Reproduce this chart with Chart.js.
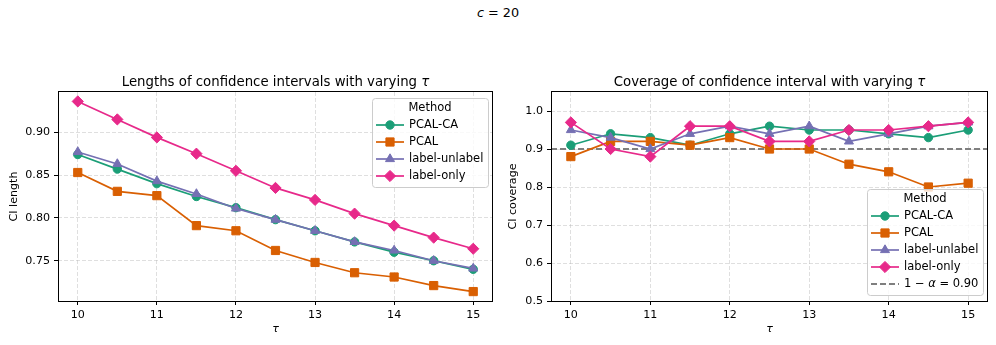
<!DOCTYPE html>
<html>
<head>
<meta charset="utf-8">
<script src="https://cdn.jsdelivr.net/npm/chart.js@4/dist/chart.umd.min.js"></script>
<style>
  body { margin: 0; background: #fff; width: 996px; height: 345px; overflow: hidden; position: relative; font-family: "DejaVu Sans", sans-serif; }
  #sup { position: absolute; top: 5px; left: 0; width: 996px; text-align: center; font-size: 12.8px; line-height: 16px; color: #000; }
  .panel { position: absolute; top: 0; height: 345px; }
</style>
</head>
<body>
<div id="sup"><i>c</i> = 20</div>
<div class="panel" style="left:0;width:500px"><canvas id="len-chart" width="500" height="345"></canvas></div>
<div class="panel" style="left:500px;width:496px"><canvas id="cov-chart" width="496" height="345"></canvas></div>
<script>
// x values (tau) and axis ticks
const tau = [10, 10.5, 11, 11.5, 12, 12.5, 13, 13.5, 14, 14.5, 15];
const tauTicks = [10, 11, 12, 13, 14, 15];
const tauMin = 9.75;
const tauMax = 15.25;

const methods = ['PCAL-CA', 'PCAL', 'label-unlabel', 'label-only'];
const methodColors = ['#1b9e77', '#d95f02', '#7570b3', '#e7298a'];
const methodMarkers = ['circle', 'rect', 'triangle', 'rectRot'];
const markerRadius = [4.2, 5.8, 5.2, 5.6];

// CI length
const lenPcalCa = [0.874, 0.857, 0.840, 0.825, 0.812, 0.798, 0.785, 0.772, 0.760, 0.750, 0.740];
const lenPcal = [0.853, 0.831, 0.826, 0.791, 0.785, 0.762, 0.748, 0.736, 0.731, 0.721, 0.714];
const lenLabelUnlabel = [0.877, 0.863, 0.843, 0.828, 0.811, 0.798, 0.785, 0.772, 0.762, 0.750, 0.741];
const lenLabelOnly = [0.936, 0.915, 0.894, 0.875, 0.855, 0.835, 0.821, 0.805, 0.791, 0.777, 0.764];
const lenTicks = [0.75, 0.80, 0.85, 0.90];
const lenMin = 0.703;
const lenMax = 0.947;

// CI coverage
const covPcalCa = [0.91, 0.94, 0.93, 0.91, 0.94, 0.96, 0.95, 0.95, 0.94, 0.93, 0.95];
const covPcal = [0.88, 0.92, 0.92, 0.91, 0.93, 0.90, 0.90, 0.86, 0.84, 0.80, 0.81];
const covLabelUnlabel = [0.95, 0.93, 0.90, 0.94, 0.96, 0.94, 0.96, 0.92, 0.94, 0.96, 0.97];
const covLabelOnly = [0.97, 0.90, 0.88, 0.96, 0.96, 0.92, 0.92, 0.95, 0.95, 0.96, 0.97];
const covTicks = [0.5, 0.6, 0.7, 0.8, 0.9, 1.0];
const covMin = 0.5;
const covMax = 1.05;
const targetCoverage = 0.90;

const FONT = '"DejaVu Sans", sans-serif';
const FS = 11.1;        // ticks and axis labels
const LEG_FS = 11.5;    // legend
const TITLE_FS = 13.3;  // subplot titles
Chart.defaults.font.family = FONT;
Chart.defaults.color = '#000';

// text with greek letters in italic (mathtext look)
function drawRich(ctx, text, x, y, size, align) {
    const parts = text.split(/([τα])/).filter(p => p.length);
    const fontOf = p => (/[τα]/.test(p) ? 'italic ' : '') + size + 'px ' + FONT;
    let total = 0;
    parts.forEach(p => { ctx.font = fontOf(p); total += ctx.measureText(p).width; });
    let cx = align === 'center' ? x - total / 2 : x;
    ctx.textAlign = 'left';
    parts.forEach(p => {
        ctx.font = fontOf(p);
        ctx.fillText(p, cx, y);
        cx += ctx.measureText(p).width;
    });
    return total;
}

function measureRich(ctx, text, size) {
    let w = 0;
    text.split(/([τα])/).filter(p => p.length).forEach(p => {
        ctx.font = (/[τα]/.test(p) ? 'italic ' : '') + size + 'px ' + FONT;
        w += ctx.measureText(p).width;
    });
    return w;
}

function drawLegend(chart, where) {
    const ctx = chart.ctx;
    const a = chart.chartArea;
    const items = chart.data.datasets;
    let maxW = 0;
    items.forEach(ds => { maxW = Math.max(maxW, measureRich(ctx, ds.label, LEG_FS)); });
    const boxW = Math.round(37 + maxW + 5);
    const boxH = 27 + (items.length - 1) * 17 + 11;
    const x0 = a.right - 5 - boxW;
    const y0 = where === 'upper right' ? a.top + 6 : a.bottom - 6 - boxH;

    ctx.save();
    ctx.beginPath();
    ctx.roundRect(x0 + 0.5, y0 + 0.5, boxW, boxH, 3);
    ctx.fillStyle = 'rgba(255,255,255,0.8)';
    ctx.fill();
    ctx.strokeStyle = '#cccccc';
    ctx.lineWidth = 1;
    ctx.stroke();

    ctx.fillStyle = '#000';
    ctx.textBaseline = 'middle';
    ctx.font = LEG_FS + 'px ' + FONT;
    ctx.textAlign = 'center';
    ctx.fillText('Method', x0 + boxW / 2, y0 + 10);

    items.forEach((ds, i) => {
        const cy = y0 + 27 + i * 17;
        ctx.strokeStyle = ds.borderColor;
        ctx.lineWidth = ds.borderWidth;
        ctx.setLineDash(ds.borderDash || []);
        ctx.beginPath();
        ctx.moveTo(x0 + 4, cy);
        ctx.lineTo(x0 + 32, cy);
        ctx.stroke();
        ctx.setLineDash([]);
        if (ds.pointRadius > 0) {
            ctx.fillStyle = ds.backgroundColor;
            ctx.strokeStyle = ds.borderColor;
            ctx.lineWidth = 1;
            Chart.helpers.drawPoint(ctx, {pointStyle: ds.pointStyle, radius: ds.pointRadius, borderWidth: 1, rotation: 0}, x0 + 18, cy);
        }
        ctx.fillStyle = '#000';
        ctx.textBaseline = 'middle';
        drawRich(ctx, ds.label, x0 + 37, cy + 0.5, LEG_FS, 'left');
    });
    ctx.restore();
}

const mplDecor = {
    id: 'mplDecor',
    afterDraw(chart, args, opts) {
        const ctx = chart.ctx;
        const a = chart.chartArea;
        ctx.save();
        // axes frame
        ctx.strokeStyle = '#000';
        ctx.lineWidth = 1;
        ctx.strokeRect(Math.round(a.left) + 0.5, Math.round(a.top) - 0.5, Math.round(a.right - a.left) - 1, Math.round(a.bottom - a.top) + 1);
        // subplot title
        ctx.fillStyle = '#000';
        ctx.textBaseline = 'alphabetic';
        drawRich(ctx, opts.title, (a.left + a.right) / 2, 85.5, TITLE_FS, 'center');
        ctx.restore();
        drawLegend(chart, opts.legendAt);
    }
};

function methodDatasets(series) {
    return series.map((vals, i) => ({
        label: methods[i],
        data: vals.map((v, k) => ({x: tau[k], y: v})),
        borderColor: methodColors[i],
        backgroundColor: methodColors[i],
        pointStyle: methodMarkers[i],
        pointRadius: markerRadius[i],
        pointBorderWidth: 1,
        borderWidth: 1.7,
        order: series.length - i
    }));
}

function makeChart(id, datasets, cfg) {
    const ctx = document.getElementById(id);
    return new Chart(ctx, {
        type: 'line',
        data: {datasets: datasets},
        plugins: [mplDecor],
        options: {
            responsive: false,
            animation: false,
            events: [],
            layout: {padding: {left: 0, top: 92, right: cfg.padRight, bottom: 0}},
            plugins: {
                legend: {display: false},
                tooltip: {enabled: false},
                mplDecor: {title: cfg.title, legendAt: cfg.legendAt}
            },
            scales: {
                x: {
                    type: 'linear',
                    min: tauMin,
                    max: tauMax,
                    afterBuildTicks: s => { s.ticks = tauTicks.map(v => ({value: v})); },
                    afterFit: s => { s.height = 44; },
                    grid: {color: 'rgba(176,176,176,0.5)', lineWidth: 0.8, tickColor: '#000', tickLength: 4, tickWidth: 1},
                    border: {display: false, dash: [4, 2]},
                    ticks: {color: '#000', font: {size: FS}, padding: 3, maxRotation: 0, callback: v => String(v)},
                    title: {display: true, text: 'τ', color: '#000', font: {size: FS, style: 'italic'}, padding: {top: 0, bottom: 9}}
                },
                y: {
                    type: 'linear',
                    min: cfg.yMin,
                    max: cfg.yMax,
                    afterBuildTicks: s => { s.ticks = cfg.yTicks.map(v => ({value: v})); },
                    afterFit: s => { s.width = cfg.yWidth; },
                    grid: {color: 'rgba(176,176,176,0.5)', lineWidth: 0.8, tickColor: '#000', tickLength: 4, tickWidth: 1},
                    border: {display: false, dash: [4, 2]},
                    ticks: {color: '#000', font: {size: FS}, padding: 4, callback: v => v.toFixed(cfg.digits)},
                    title: {display: true, text: cfg.yTitle, color: '#000', font: {size: FS}, padding: {top: cfg.yTitlePad, bottom: 0}}
                }
            }
        }
    });
}

makeChart('len-chart',
    methodDatasets([lenPcalCa, lenPcal, lenLabelUnlabel, lenLabelOnly]),
    {title: 'Lengths of confidence intervals with varying τ', legendAt: 'upper right', padRight: 7,
     yMin: lenMin, yMax: lenMax, yTicks: lenTicks, digits: 2, yWidth: 58, yTitle: 'CI length', yTitlePad: 7});

const covSets = methodDatasets([covPcalCa, covPcal, covLabelUnlabel, covLabelOnly]);
covSets.push({
    label: '1 − α = ' + targetCoverage.toFixed(2),
    data: [{x: tauMin, y: targetCoverage}, {x: tauMax, y: targetCoverage}],
    borderColor: '#7f7f7f',
    backgroundColor: '#7f7f7f',
    borderDash: [6, 3],
    borderWidth: 1.8,
    pointRadius: 0,
    order: 99
});

makeChart('cov-chart', covSets,
    {title: 'Coverage of confidence interval with varying τ', legendAt: 'lower right', padRight: 8,
     yMin: covMin, yMax: covMax, yTicks: covTicks, digits: 1, yWidth: 51, yTitle: 'CI coverage', yTitlePad: 6});
</script>
</body>
</html>
